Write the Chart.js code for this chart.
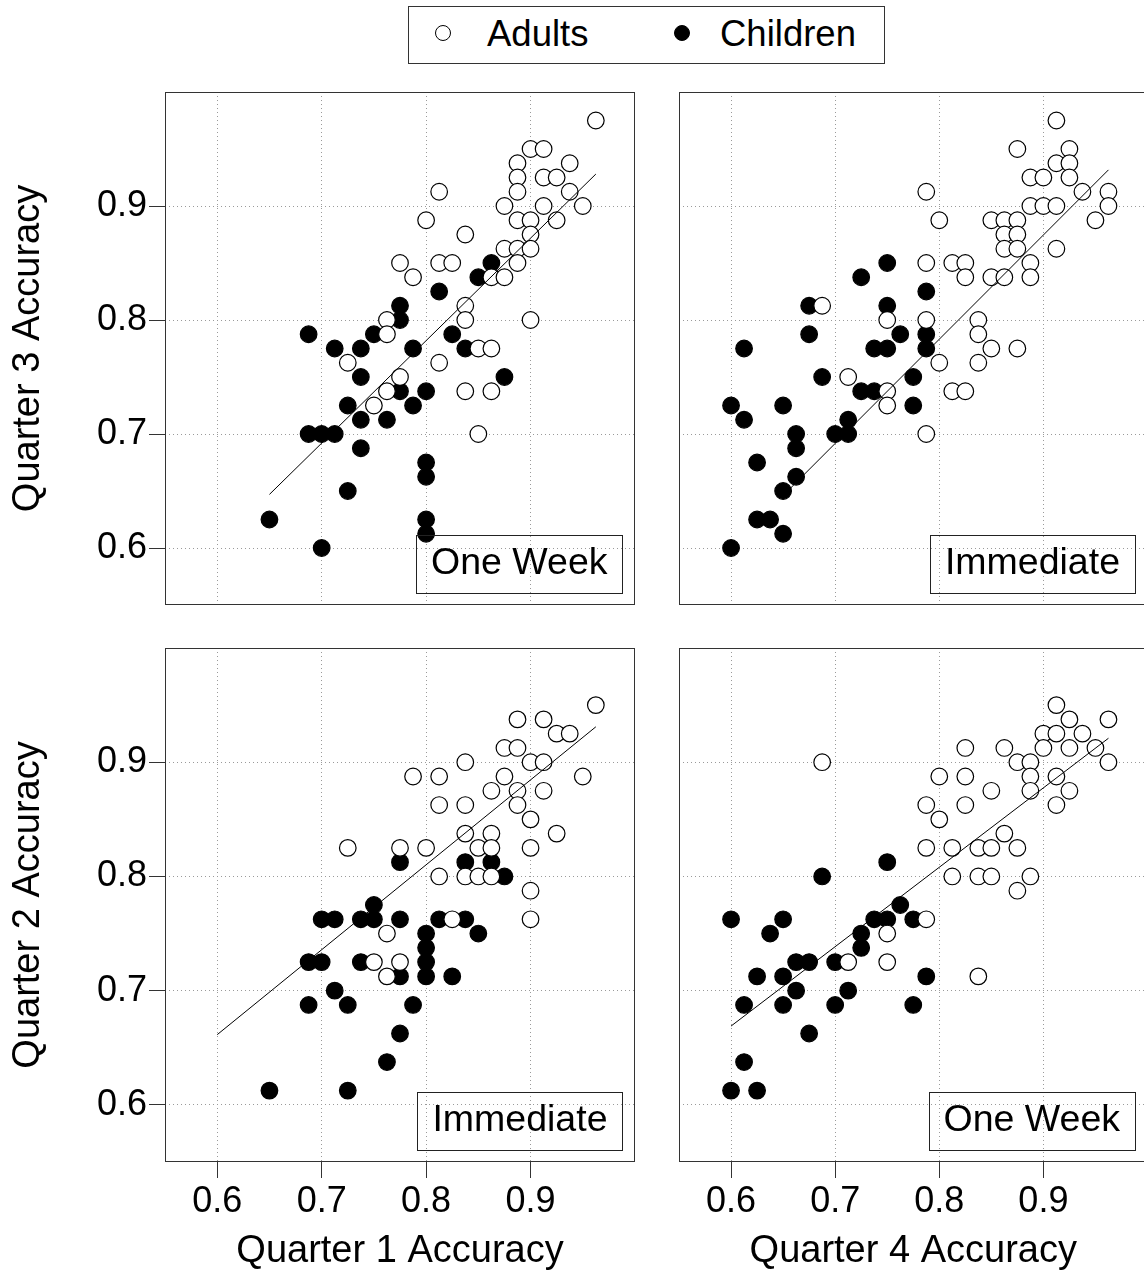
<!DOCTYPE html>
<html>
<head>
<meta charset="utf-8">
<script src="https://cdn.jsdelivr.net/npm/chart.js@4.4.1/dist/chart.umd.min.js"></script>
<style>
html,body{margin:0;padding:0;background:#fff;overflow:hidden;}
#page{position:relative;width:1144px;height:1281px;overflow:hidden;background:#fff;font-family:"Liberation Sans",Arial,Helvetica,sans-serif;}
#page canvas{position:absolute;}
#legend{position:absolute;left:408px;top:6px;width:477px;height:58px;box-sizing:border-box;border:1px solid #333;}
.mk{position:absolute;top:18px;width:16px;height:16px;border-radius:50%;box-sizing:border-box;border:1px solid #000;background:#fff;}
.mk.filled{background:#000;}
.lt{position:absolute;top:-1px;font-size:36.5px;line-height:56px;color:#000;white-space:nowrap;}
</style>
</head>
<body>
<div id="page">
  <div id="legend">
    <span class="mk" style="left:26px"></span><span class="lt" style="left:78px">Adults</span>
    <span class="mk filled" style="left:265px"></span><span class="lt" style="left:311px">Children</span>
  </div>
</div>
<script>
// ---------- data ----------
const tickValues = [0.6, 0.7, 0.8, 0.9];
const axisMin = 0.55;
const axisMax = 1.0;
const groupNames = ['Adults', 'Children'];
const xTitles = ['Quarter 1 Accuracy', 'Quarter 4 Accuracy'];
const yTitles = ['Quarter 3 Accuracy', 'Quarter 2 Accuracy'];
const panelLabels = ['One Week', 'Immediate', 'Immediate', 'One Week'];

// Top-left: Quarter 1 (x) vs Quarter 3 (y), One Week
const adultsQ1Q3 = [[0.775,0.85],[0.7875,0.8375],[0.8125,0.85],[0.825,0.85],[0.7625,0.8],[0.7625,0.7875],[0.725,0.7625],[0.8125,0.7625],[0.775,0.75],[0.7625,0.7375],[0.75,0.725],
  [0.9625,0.975],[0.9,0.95],[0.9125,0.95],[0.8875,0.9375],[0.9375,0.9375],[0.8875,0.925],[0.9125,0.925],[0.925,0.925],[0.8125,0.9125],[0.8875,0.9125],[0.9375,0.9125],[0.875,0.9],[0.9125,0.9],[0.95,0.9],[0.8,0.8875],[0.8875,0.8875],[0.9,0.8875],[0.925,0.8875],[0.8375,0.875],[0.9,0.875],[0.875,0.8625],[0.8875,0.8625],[0.9,0.8625],[0.8875,0.85],[0.8625,0.8375],[0.875,0.8375],[0.8375,0.8125],[0.8375,0.8],[0.9,0.8],[0.85,0.775],[0.8625,0.775],[0.8375,0.7375],[0.8625,0.7375],[0.85,0.7]];
const childrenQ1Q3 = [[0.6875,0.7875],[0.775,0.8125],[0.775,0.8],[0.8125,0.825],[0.75,0.7875],[0.7125,0.775],[0.7375,0.775],[0.7875,0.775],[0.825,0.7875],[0.8375,0.775],[0.7375,0.75],[0.775,0.7375],[0.8,0.7375],[0.725,0.725],[0.7875,0.725],[0.7375,0.7125],[0.7625,0.7125],[0.6875,0.7],[0.7,0.7],[0.7125,0.7],[0.7375,0.6875],[0.8,0.675],[0.8,0.6625],[0.725,0.65],[0.65,0.625],[0.8,0.625],[0.8,0.6125],[0.7,0.6],[0.8625,0.85],[0.85,0.8375],[0.875,0.75]];
const fitQ1Q3 = [[0.65,0.647],[0.9625,0.928]];

// Top-right: Quarter 4 (x) vs Quarter 3 (y), Immediate
const adultsQ4Q3 = [[0.7875,0.85],[0.6875,0.8125],[0.75,0.8],[0.7875,0.8],[0.7125,0.75],[0.75,0.7375],[0.75,0.725],[0.7875,0.7],
  [0.9125,0.975],[0.875,0.95],[0.925,0.95],[0.9125,0.9375],[0.925,0.9375],[0.8875,0.925],[0.9,0.925],[0.925,0.925],[0.7875,0.9125],[0.9375,0.9125],[0.9625,0.9125],[0.8875,0.9],[0.9,0.9],[0.9125,0.9],[0.9625,0.9],[0.8,0.8875],[0.95,0.8875],[0.85,0.8875],[0.8625,0.8875],[0.875,0.8875],[0.8625,0.875],[0.875,0.875],[0.8625,0.8625],[0.875,0.8625],[0.9125,0.8625],[0.8125,0.85],[0.825,0.85],[0.8875,0.85],[0.825,0.8375],[0.85,0.8375],[0.8625,0.8375],[0.8875,0.8375],[0.8375,0.8],[0.8375,0.7875],[0.85,0.775],[0.875,0.775],[0.8,0.7625],[0.8375,0.7625],[0.8125,0.7375],[0.825,0.7375]];
const childrenQ4Q3 = [[0.75,0.85],[0.725,0.8375],[0.7875,0.825],[0.675,0.8125],[0.75,0.8125],[0.675,0.7875],[0.7625,0.7875],[0.7875,0.7875],[0.7875,0.775],[0.6125,0.775],[0.7375,0.775],[0.75,0.775],[0.6875,0.75],[0.775,0.75],[0.725,0.7375],[0.7375,0.7375],[0.6,0.725],[0.65,0.725],[0.775,0.725],[0.6125,0.7125],[0.7125,0.7125],[0.6625,0.7],[0.6625,0.6875],[0.7,0.7],[0.7125,0.7],[0.625,0.675],[0.6625,0.6625],[0.65,0.65],[0.625,0.625],[0.6375,0.625],[0.65,0.6125],[0.6,0.6]];
const fitQ4Q3 = [[0.65,0.646],[0.9625,0.9317]];

// Bottom-left: Quarter 1 (x) vs Quarter 2 (y), Immediate
const adultsQ1Q2 = [[0.725,0.825],[0.775,0.825],[0.8,0.825],[0.8125,0.8625],[0.8375,0.8625],[0.8375,0.8375],[0.85,0.825],[0.8125,0.8],[0.8375,0.8],[0.85,0.8],[0.825,0.7625],[0.7625,0.75],[0.75,0.725],[0.775,0.725],[0.7625,0.7125],
  [0.9625,0.95],[0.8875,0.9375],[0.9125,0.9375],[0.925,0.925],[0.9375,0.925],[0.875,0.9125],[0.8875,0.9125],[0.8375,0.9],[0.9,0.9],[0.9125,0.9],[0.7875,0.8875],[0.8125,0.8875],[0.875,0.8875],[0.95,0.8875],[0.8625,0.875],[0.8875,0.875],[0.9125,0.875],[0.8875,0.8625],[0.9,0.85],[0.925,0.8375],[0.8625,0.8375],[0.8625,0.825],[0.9,0.825],[0.8625,0.8],[0.9,0.7875],[0.9,0.7625]];
const childrenQ1Q2 = [[0.775,0.8125],[0.8375,0.8125],[0.8625,0.8125],[0.875,0.8],[0.75,0.775],[0.7,0.7625],[0.7125,0.7625],[0.7375,0.7625],[0.75,0.7625],[0.775,0.7625],[0.8125,0.7625],[0.8375,0.7625],[0.85,0.75],[0.8,0.75],[0.8,0.7375],[0.8,0.725],[0.8,0.7125],[0.6875,0.725],[0.7,0.725],[0.7375,0.725],[0.775,0.7125],[0.825,0.7125],[0.7125,0.7],[0.6875,0.6875],[0.725,0.6875],[0.7875,0.6875],[0.775,0.6625],[0.7625,0.6375],[0.65,0.6125],[0.725,0.6125]];
const fitQ1Q2 = [[0.6,0.6615],[0.9625,0.931]];

// Bottom-right: Quarter 4 (x) vs Quarter 2 (y), One Week
const adultsQ4Q2 = [[0.6875,0.9],[0.8,0.8875],[0.7875,0.8625],[0.8,0.85],[0.7875,0.825],[0.7875,0.7625],[0.75,0.75],[0.7125,0.725],[0.75,0.725],
  [0.9125,0.95],[0.925,0.9375],[0.9625,0.9375],[0.9,0.925],[0.9125,0.925],[0.9375,0.925],[0.825,0.9125],[0.8625,0.9125],[0.9,0.9125],[0.925,0.9125],[0.95,0.9125],[0.875,0.9],[0.8875,0.9],[0.9625,0.9],[0.825,0.8875],[0.8875,0.8875],[0.9125,0.8875],[0.85,0.875],[0.8875,0.875],[0.925,0.875],[0.825,0.8625],[0.9125,0.8625],[0.8625,0.8375],[0.8125,0.825],[0.8375,0.825],[0.85,0.825],[0.875,0.825],[0.8125,0.8],[0.8375,0.8],[0.85,0.8],[0.8875,0.8],[0.875,0.7875],[0.8375,0.7125]];
const childrenQ4Q2 = [[0.75,0.8125],[0.6875,0.8],[0.6,0.7625],[0.65,0.7625],[0.7625,0.775],[0.7375,0.7625],[0.75,0.7625],[0.775,0.7625],[0.6375,0.75],[0.725,0.75],[0.725,0.7375],[0.6625,0.725],[0.675,0.725],[0.7,0.725],[0.625,0.7125],[0.65,0.7125],[0.7875,0.7125],[0.6625,0.7],[0.7125,0.7],[0.6125,0.6875],[0.65,0.6875],[0.7,0.6875],[0.775,0.6875],[0.675,0.6625],[0.6125,0.6375],[0.6,0.6125],[0.625,0.6125]];
const fitQ4Q2 = [[0.6,0.669],[0.9625,0.921]];

// ---------- rendering ----------
const FONT = '"Liberation Sans", Arial, Helvetica, sans-serif';
Chart.defaults.font.family = FONT;
Chart.defaults.color = '#000';

const framePlugin = {
  id: 'panelFrame',
  afterDatasetsDraw(chart, args, opts) {
    const {ctx, chartArea: a} = chart;
    ctx.save();
    // panel label box (transparent)
    ctx.font = '37.5px ' + FONT;
    const tw = ctx.measureText(opts.label).width;
    const w = tw + 30, h = 57.5;
    const x = a.right - 12.5 - w, y = a.bottom - 12.5 - h;
    ctx.strokeStyle = '#222';
    ctx.lineWidth = 1;
    ctx.strokeRect(Math.round(x) + 0.5, Math.round(y) + 0.5, Math.round(w), Math.round(h));
    ctx.fillStyle = '#000';
    ctx.textAlign = 'center';
    ctx.textBaseline = 'middle';
    ctx.fillText(opts.label, x + w / 2, y + h / 2);
    // frame
    ctx.strokeStyle = '#333';
    ctx.strokeRect(a.left + 0.5, a.top + 0.5, a.right - a.left - 1, a.bottom - a.top - 1);
    ctx.restore();
  }
};

const toXY = arr => arr.map(p => ({x: p[0], y: p[1]}));

function makePanel(p) {
  const page = document.getElementById('page');
  const c = document.createElement('canvas');
  c.width = p.width; c.height = p.height;
  c.style.left = p.left + 'px'; c.style.top = p.top + 'px';
  c.style.width = p.width + 'px'; c.style.height = p.height + 'px';
  page.appendChild(c);

  const gridBase = {
    color: '#9a9a9a', lineWidth: 1,
    tickLength: 16, tickColor: '#333', tickWidth: 1, tickBorderDash: []
  };

  new Chart(c.getContext('2d'), {
    type: 'scatter',
    data: {
      datasets: [
        {label: 'fit', data: toXY(p.fit), showLine: true, borderColor: '#000', borderWidth: 1,
         pointRadius: 0, pointHoverRadius: 0, fill: false, tension: 0},
        {label: groupNames[0], data: toXY(p.adults), pointRadius: 8.3, pointHoverRadius: 8.3,
         backgroundColor: '#fff', borderColor: '#000', borderWidth: 1.2},
        {label: groupNames[1], data: toXY(p.children), pointRadius: 8.3, pointHoverRadius: 8.3,
         backgroundColor: '#000', borderColor: '#000', borderWidth: 1.2}
      ]
    },
    options: {
      responsive: false, animation: false, devicePixelRatio: 1,
      layout: {padding: p.pad},
      events: [],
      plugins: {legend: {display: false}, tooltip: {enabled: false}, panelFrame: {label: p.label}},
      scales: {
        x: {
          type: 'linear', position: 'bottom', min: axisMin, max: axisMax,
          afterBuildTicks: s => { s.ticks = tickValues.map(v => ({value: v})); },
          afterFit: s => { s.height = p.showX ? p.xAxisH : 0; },
          ticks: {display: p.showX, font: {size: 36}, color: '#000', padding: 2, maxRotation: 0, autoSkip: false,
                  callback: v => v.toFixed(1)},
          grid: Object.assign({drawTicks: p.showX}, gridBase),
          border: {display: false, dash: [1, 3]},
          title: {display: p.showX, text: p.xTitle, font: {size: 38}, color: '#000', padding: {top: 0, bottom: 7}}
        },
        y: {
          type: 'linear', position: 'left', min: axisMin, max: axisMax,
          afterBuildTicks: s => { s.ticks = tickValues.map(v => ({value: v})); },
          afterFit: s => { s.width = p.showY ? 165 : 0; },
          ticks: {display: p.showY, font: {size: 36}, color: '#000', padding: 2, autoSkip: false,
                  callback: v => v.toFixed(1)},
          grid: Object.assign({drawTicks: p.showY}, gridBase),
          border: {display: false, dash: [1, 3]},
          title: {display: p.showY, text: p.yTitle, font: {size: 38}, color: '#000', padding: {top: 6, bottom: 0}}
        }
      }
    },
    plugins: [framePlugin]
  });
}

// top-left
makePanel({left: 0, top: 60, width: 660, height: 575, pad: {left: 0, top: 32, right: 25, bottom: 30},
  showX: false, showY: true, xAxisH: 0, xTitle: xTitles[0], yTitle: yTitles[0],
  adults: adultsQ1Q3, children: childrenQ1Q3, fit: fitQ1Q3, label: panelLabels[0]});
// top-right
makePanel({left: 657, top: 60, width: 500, height: 575, pad: {left: 22, top: 32, right: 8, bottom: 30},
  showX: false, showY: false, xAxisH: 0, xTitle: xTitles[1], yTitle: yTitles[0],
  adults: adultsQ4Q3, children: childrenQ4Q3, fit: fitQ4Q3, label: panelLabels[1]});
// bottom-left
makePanel({left: 0, top: 612, width: 660, height: 669, pad: {left: 0, top: 36, right: 25, bottom: 0},
  showX: true, showY: true, xAxisH: 119, xTitle: xTitles[0], yTitle: yTitles[1],
  adults: adultsQ1Q2, children: childrenQ1Q2, fit: fitQ1Q2, label: panelLabels[2]});
// bottom-right
makePanel({left: 657, top: 612, width: 500, height: 669, pad: {left: 22, top: 36, right: 8, bottom: 0},
  showX: true, showY: false, xAxisH: 119, xTitle: xTitles[1], yTitle: yTitles[1],
  adults: adultsQ4Q2, children: childrenQ4Q2, fit: fitQ4Q2, label: panelLabels[3]});
</script>
</body>
</html>
